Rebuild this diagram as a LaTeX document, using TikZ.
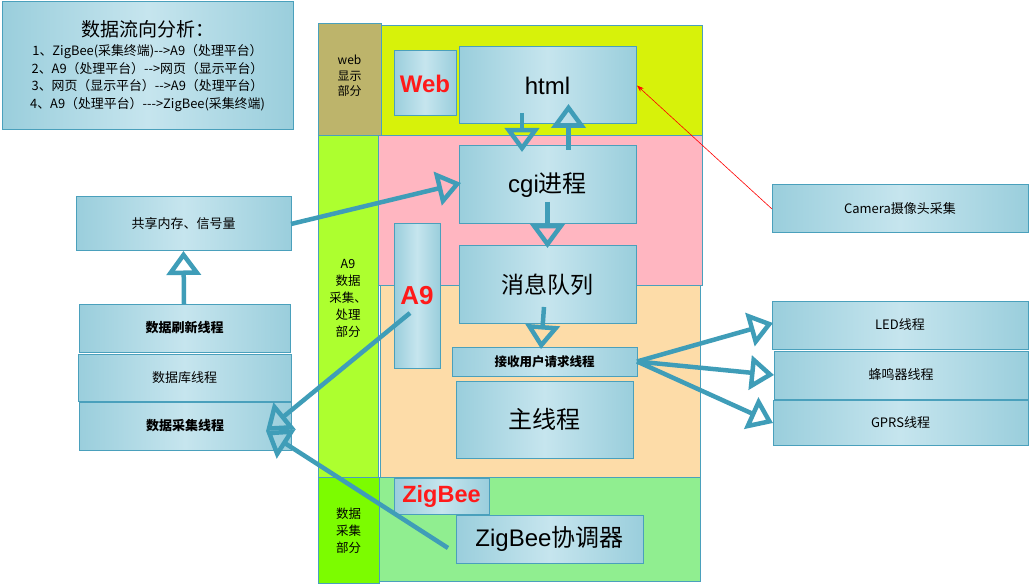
\documentclass[tikz,border=0pt]{standalone}
\usepackage{fontspec}
\setmainfont{Liberation Sans}
\newfontfamily\cjk{Noto Sans CJK SC}
\usetikzlibrary{arrows.meta, positioning}

\definecolor{boxline}{HTML}{4AA0BC}
\definecolor{boxedge}{HTML}{9ACEDC}
\definecolor{boxmid}{HTML}{C6E5EE}
\definecolor{flowc}{HTML}{3F9DB8}
\definecolor{webstrip}{HTML}{BDB46B}
\definecolor{webzone}{HTML}{D7F20A}
\definecolor{armstrip}{HTML}{ADFF2F}
\definecolor{cgizone}{HTML}{FFB6C1}
\definecolor{armzone}{HTML}{FDDCA8}
\definecolor{zbstrip}{HTML}{7CFC00}
\definecolor{zbzone}{HTML}{90EE90}
\definecolor{tagred}{HTML}{FF1A1A}

\newcommand\dashto{-\kern0pt-\kern0pt>}

\begin{document}
\begin{tikzpicture}[x=1pt, y=-1pt,
    box/.style={draw=boxline, line width=1pt, left color=boxedge, right color=boxedge,
      middle color=boxmid, inner sep=0pt, outer sep=0pt, align=center},
    zone/.style={draw=boxline, line width=0.8pt},
    flow/.style={draw=flowc, line width=4.5pt, -{Triangle[open, length=24pt, width=34pt]}},
    tag/.style={text=tagred, font=\bfseries},
    small/.style={font=\cjk\fontsize{13}{15}\selectfont},
    big/.style={font=\fontsize{24}{28}\selectfont}]
        \useasboundingbox[fill=white] (0,0) rectangle (1030,585);

        % Zones
        \draw[zone, fill=webzone] (381,25) rectangle (702,135);
        \draw[zone, fill=cgizone] (378,135) rectangle (702,285);
        \draw[zone, fill=armzone] (380,285) rectangle (700,477);
        \draw[zone, fill=zbzone] (379,477) rectangle (700,581);
        \draw[zone, fill=webstrip] (318,23) rectangle (381,135);
        \draw[zone, fill=armstrip] (318,135) rectangle (378,477);
        \draw[zone, fill=zbstrip] (318,477) rectangle (379,583);
        \node[align=center, font=\cjk\fontsize{12}{15.5}\selectfont] (webtxt) at (349.5,76) {web\\显示\\部分};
        \node[align=center, font=\cjk\fontsize{12.5}{17}\selectfont] (armtxt) at (348,298) {A9\\数据\\采集、\\处理\\部分};
        \node[align=center, font=\cjk\fontsize{12.5}{17}\selectfont] (zbtxt) at (348.5,531) {数据\\采集\\部分};

        % Summary
        \node[box, minimum width=291, minimum height=128, font=\cjk\fontsize{12.9}{17.5}\selectfont] (summary) at (147.5,66)
            {{\fontsize{19}{21}\selectfont 数据流向分析：}\\[2pt]
             1、ZigBee(采集终端)\dashto A9（处理平台）\\
             2、A9（处理平台）\dashto 网页（显示平台）\\
             3、网页（显示平台）\dashto A9（处理平台）\\
             4、A9（处理平台）-\kern0pt\dashto ZigBee(采集终端)};

        % Web part
        \node[box, minimum width=62, minimum height=65, tag, font=\bfseries\fontsize{24}{28}\selectfont] (web) at (425,83.5) {Web};
        \node[box, big, minimum width=177, minimum height=77] (html) at (547.5,85.5) {html};

        % A9 part
        \node[box, big, minimum width=177, minimum height=78] (cgi) at (547.5,185) {cgi{\cjk 进程}};
        \node[box, minimum width=46, minimum height=144, tag, font=\bfseries\fontsize{26}{30}\selectfont] (a9) at (417,296) {A9};
        \node[box, minimum width=177, minimum height=77, font=\cjk\fontsize{23}{27}\selectfont] (queue) at (547.5,284.5) {消息队列};
        \node[box, minimum width=185, minimum height=29, font=\cjk\bfseries\fontsize{12.5}{15}\selectfont] (recv) at (544.5,361.5) {接收用户请求线程};
        \node[box, minimum width=177, minimum height=77, font=\cjk\fontsize{24}{28}\selectfont] (mainthr) at (544.5,419.5) {主线程};

        % ZigBee part
        \node[box, minimum width=95, minimum height=36, tag, font=\bfseries\fontsize{23.5}{27}\selectfont] (zigbee) at (441.5,496) {ZigBee};
        \node[box, big, minimum width=187, minimum height=48] (coord) at (549.5,539) {ZigBee{\cjk 协调器}};

        % Threads on the left
        \node[box, small, minimum width=215, minimum height=54] (share) at (183.5,224) {共享内存、信号量};
        \node[box, minimum width=211, minimum height=48, font=\cjk\bfseries\fontsize{13}{15}\selectfont] (refresh) at (184.5,328) {数据刷新线程};
        \node[box, small, minimum width=213, minimum height=47] (dbthr) at (184.5,377.5) {数据库线程};
        \node[box, minimum width=212, minimum height=48, font=\cjk\bfseries\fontsize{13}{15}\selectfont] (collect) at (185,426) {数据采集线程};

        % Threads on the right
        \node[box, small, minimum width=256, minimum height=48] (camera) at (900,209) {Camera摄像头采集};
        \node[box, small, minimum width=256, minimum height=48] (led) at (900,325) {LED线程};
        \node[box, small, minimum width=254, minimum height=48] (beep) at (901,375) {蜂鸣器线程};
        \node[box, small, minimum width=255, minimum height=45] (gprs) at (900.5,422.5) {GPRS线程};

        \coordinate (a9out) at (410,313);
        \coordinate (collectin) at (266,431);
        \coordinate (coordout) at (448,548);

        % Arrows
        \draw[flow] ([xshift=-25.5pt, yshift=11pt]html.south) -- ([xshift=-25.5pt, yshift=-6pt]cgi.north);
        \draw[flow] ([xshift=21pt, yshift=-4pt]cgi.north) -- ([xshift=21pt, yshift=20pt]html.south);
        \draw[flow] ([yshift=22pt]cgi.south) -- ([yshift=-2pt]queue.north);
        \draw[flow] ([xshift=-3.5pt, yshift=16pt]queue.south) -- ([xshift=-3.5pt, yshift=-2pt]recv.north);
        \draw[flow] (share.east) -- ([xshift=2pt, yshift=2pt]cgi.west);
        \draw[flow] ([xshift=-0.5pt]refresh.north) -- (share.south);
        \draw[flow] (a9out) -- (collectin);
        \draw[flow] (coordout) -- (collectin);
        \draw[flow] (recv.east) -- ([xshift=1pt, yshift=2pt]led.west);
        \draw[flow] (recv.east) -- (beep.west);
        \draw[flow] (recv.east) -- ([yshift=-0.5pt]gprs.west);
        \draw[red, line width=0.6pt, -{Stealth[length=7pt, width=5pt]}] (camera.west) -- ([xshift=1pt]html.east);
    \end{tikzpicture}
\end{document}
